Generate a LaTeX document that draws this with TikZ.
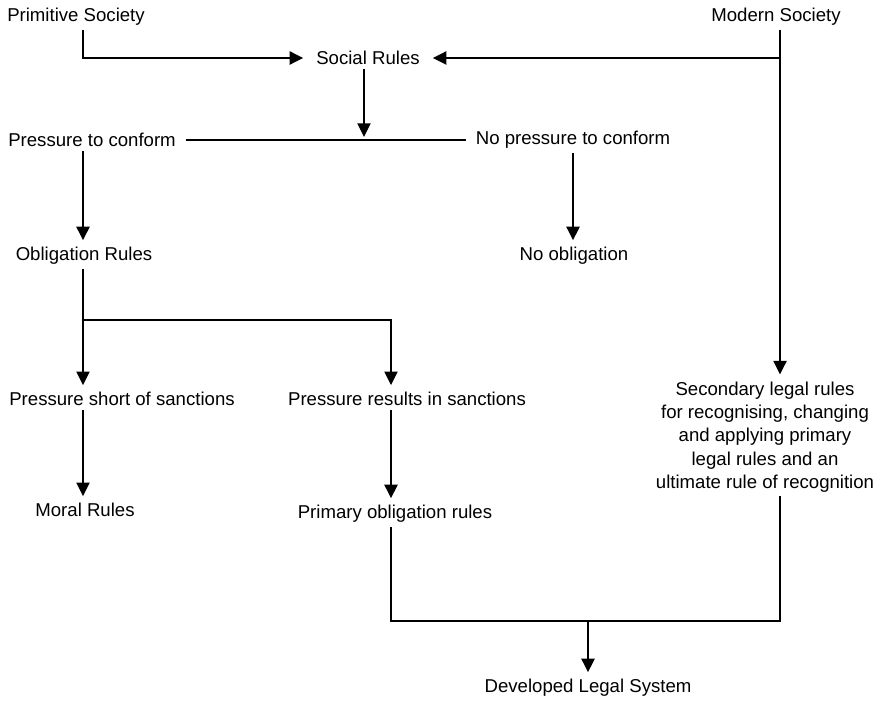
\documentclass[tikz,border=0pt]{standalone}
\usepackage{fontspec}
\setmainfont{Liberation Sans}
\usetikzlibrary{arrows.meta}

\begin{document}
\begin{tikzpicture}[x=0.5pt, y=-0.5pt,
    lbl/.style={inner xsep=4pt, inner ysep=1pt, outer sep=1pt, font=\fontsize{9.3}{11.7}\selectfont},
    arr/.style={-{Triangle[length=6.8pt, width=6.4pt]}, shorten >=1.5pt},
    line width=1.3pt]

  \useasboundingbox (0,0) rectangle (886,700);

  %% the three vertical tracks
  \coordinate (lcol) at (83,0);
  \coordinate (mcol) at (391,0);
  \coordinate (rcol) at (780,0);

  \node[lbl] (prim)    at (76,17)   {Primitive Society};
  \node[lbl] (modern)  at (776,17)  {Modern Society};
  \node[lbl] (social)  at (368,58)  {Social Rules};
  \node[lbl] (press)   at (92,140)  {Pressure to conform};
  \node[lbl] (nopress) at (573,140) {No pressure to conform};
  \node[lbl] (oblig)   at (84,256)  {Obligation Rules};
  \node[lbl] (noobl)   at (574,256) {No obligation};
  \node[lbl] (short)   at (122,399) {Pressure short of sanctions};
  \node[lbl] (result)  at (407,399) {Pressure results in sanctions};
  \node[lbl] (moral)   at (85,510)  {Moral Rules};
  \node[lbl] (primary) at (395,514) {Primary obligation rules};
  \node[lbl, align=center] (second) at (765,437)
    {Secondary legal rules\\for recognising, changing\\and applying primary\\legal rules and an\\ultimate rule of recognition};
  \node[lbl] (devel)   at (588,688) {Developed Legal System};

  \coordinate (split) at (83,320);
  \coordinate (join)  at (588,621);

  \draw[arr] (prim.south -| lcol) |- (social.west);          %% primitive -> social
  \draw[arr] (modern.south -| rcol) -- (second.north -| rcol); %% modern -> secondary
  \draw[arr] (social.east -| rcol) -- (social.east);         %% modern -> social
  \draw[arr] (social.south -| 364,0) -- (press.east -| 364,0);
  \draw (press.east) -- (nopress.west);
  \draw[arr] (press.south -| lcol) -- (oblig.north -| lcol);
  \draw[arr] (nopress.south) -- (nopress.south |- noobl.north);

  \draw[arr] (oblig.south -| lcol) -- (short.north -| lcol);
  \draw[arr] (split) -| (result.north -| mcol);
  \draw[arr] (short.south -| lcol) -- (moral.north -| lcol);
  \draw[arr] (result.south -| mcol) -- (primary.north -| mcol);

  \draw (primary.south -| mcol) |- (join -| rcol) -- (second.south -| rcol);
  \draw[arr] (join) -- (devel.north);
\end{tikzpicture}
\end{document}
